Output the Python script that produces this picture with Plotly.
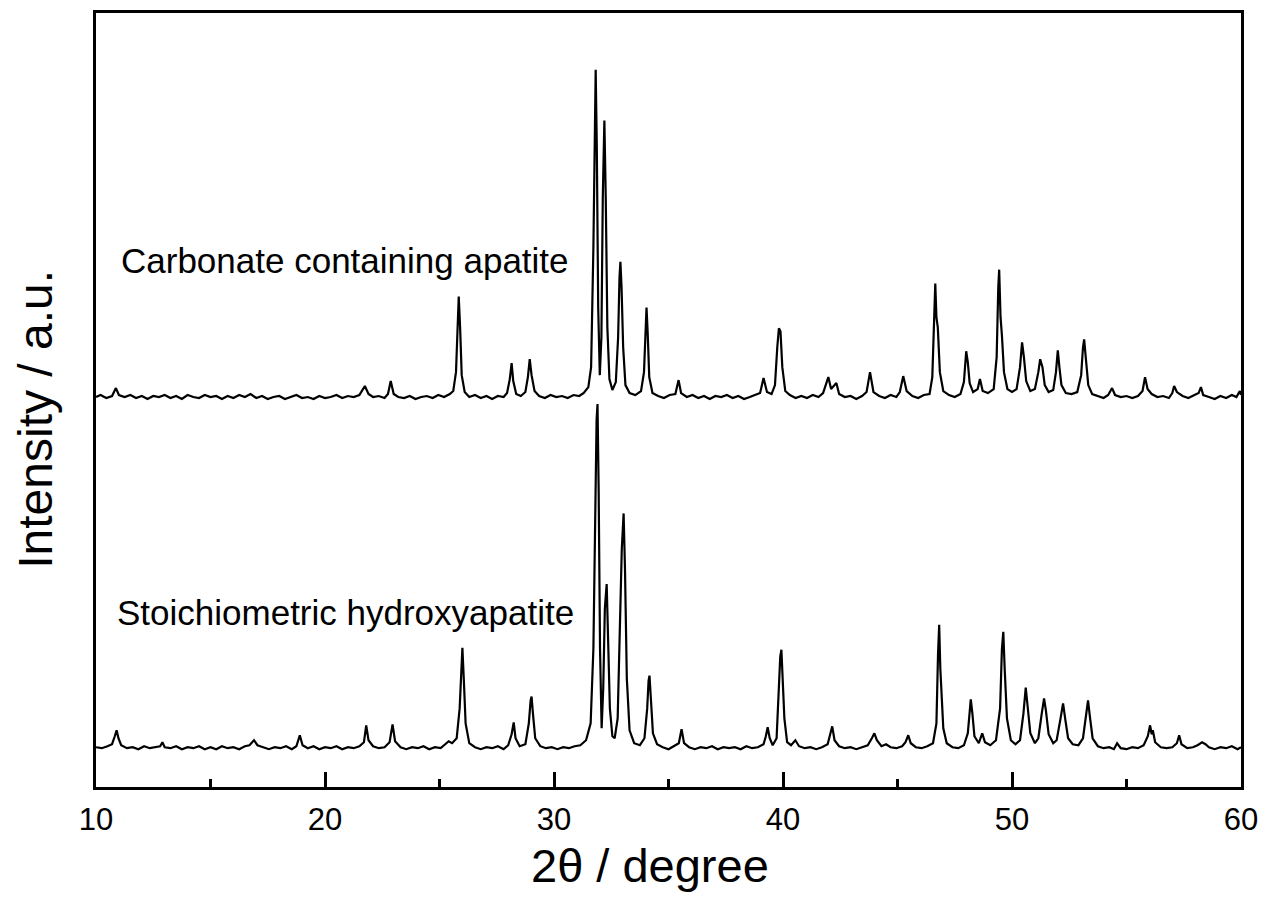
import plotly.graph_objects as go

# ---- data (2theta in degree, intensity in a.u. above each baseline) ----
CARB_PATTERN = [
    (10.0, 0), (10.2, 2), (10.45, -1), (10.7, 1), (10.87, 9), (11.0, 2), (11.25, 0), (11.5, 2), (11.75, -1),
    (12.0, 1), (12.25, -2), (12.5, 1), (12.75, 0), (13.0, 2), (13.25, -1), (13.5, 1), (13.75, -2), (14.0, 2),
    (14.25, 0), (14.5, -1), (14.75, 2), (15.0, 0), (15.25, 1), (15.5, -2), (15.75, 1), (16.0, -1), (16.25, 2),
    (16.5, 0), (16.75, 3), (17.0, -1), (17.25, 1), (17.5, -2), (17.75, 0), (18.0, 1), (18.25, -2), (18.5, 0),
    (18.75, 2), (19.0, -1), (19.25, 0), (19.5, -2), (19.75, 1), (20.0, -1), (20.25, 0), (20.5, 2), (20.75, -1),
    (21.0, 1), (21.25, 0), (21.5, 2), (21.74, 11), (21.9, 3), (22.1, 0), (22.35, 1), (22.6, -1), (22.75, 3),
    (22.87, 16), (23.0, 3), (23.2, 0), (23.45, -1), (23.7, 1), (23.95, -2), (24.2, 0), (24.45, 1), (24.7, -1),
    (24.95, 2), (25.2, 0), (25.45, 3), (25.6, 6), (25.72, 25), (25.8, 75), (25.84, 101), (25.9, 70), (25.97, 22),
    (26.1, 5), (26.3, 0), (26.55, 2), (26.8, -1), (27.05, 1), (27.3, -2), (27.55, 1), (27.8, 0), (27.95, 4),
    (28.07, 18), (28.15, 34), (28.22, 16), (28.35, 3), (28.55, 1), (28.75, 5), (28.86, 20), (28.94, 38),
    (29.02, 22), (29.15, 6), (29.35, 1), (29.6, -1), (29.85, 2), (30.1, 0), (30.35, 1), (30.6, -1), (30.85, 2),
    (31.1, 1), (31.3, 4), (31.5, 10), (31.62, 30), (31.72, 150), (31.78, 290), (31.82, 329), (31.87, 250),
    (31.93, 90), (32.0, 22), (32.07, 60), (32.13, 200), (32.2, 278), (32.26, 200), (32.33, 70), (32.42, 18),
    (32.55, 7), (32.7, 15), (32.8, 60), (32.86, 120), (32.9, 136), (32.95, 110), (33.02, 50), (33.12, 12),
    (33.3, 4), (33.55, 2), (33.8, 6), (33.93, 25), (34.0, 70), (34.04, 90), (34.09, 65), (34.16, 20), (34.3, 4),
    (34.55, 1), (34.8, -1), (35.05, 2), (35.3, 3), (35.44, 17), (35.55, 4), (35.8, 0), (36.05, 2), (36.3, -1),
    (36.55, 1), (36.8, -2), (37.05, 1), (37.3, 0), (37.55, 2), (37.8, -1), (38.05, 1), (38.3, -2), (38.55, 0),
    (38.8, 2), (39.0, 4), (39.15, 19), (39.3, 5), (39.5, 3), (39.65, 12), (39.75, 50), (39.82, 69), (39.89, 66),
    (39.97, 30), (40.1, 6), (40.3, 2), (40.55, -1), (40.8, 1), (41.05, -1), (41.3, 2), (41.55, 0), (41.75, 4),
    (41.98, 20), (42.1, 8), (42.33, 14), (42.45, 3), (42.7, 0), (42.95, 1), (43.2, -2), (43.45, 1), (43.65, 5),
    (43.8, 25), (43.95, 5), (44.2, 1), (44.45, -1), (44.7, 2), (44.95, 0), (45.1, 5), (45.25, 21), (45.4, 6),
    (45.65, 1), (45.9, -1), (46.15, 2), (46.4, 3), (46.52, 20), (46.6, 90), (46.65, 114), (46.7, 80),
    (46.76, 70), (46.85, 25), (47.0, 6), (47.25, 2), (47.5, 0), (47.75, 3), (47.9, 15), (48.0, 46), (48.07, 35),
    (48.15, 14), (48.3, 5), (48.5, 8), (48.6, 18), (48.72, 6), (48.95, 4), (49.2, 8), (49.33, 40), (49.4, 110),
    (49.44, 128), (49.5, 80), (49.56, 62), (49.65, 25), (49.8, 8), (50.0, 5), (50.2, 8), (50.35, 30),
    (50.44, 55), (50.52, 40), (50.62, 16), (50.8, 6), (51.0, 8), (51.15, 25), (51.23, 38), (51.33, 30),
    (51.43, 12), (51.6, 5), (51.8, 7), (51.92, 25), (52.0, 47), (52.07, 30), (52.16, 12), (52.35, 4), (52.6, 3),
    (52.85, 5), (53.02, 22), (53.1, 50), (53.15, 58), (53.22, 40), (53.33, 12), (53.5, 3), (53.75, 1),
    (54.0, -1), (54.2, 2), (54.37, 9), (54.5, 2), (54.75, 0), (55.0, 1), (55.25, -1), (55.5, 1), (55.7, 6),
    (55.81, 20), (55.92, 8), (56.1, 3), (56.35, 0), (56.6, 1), (56.85, -1), (57.0, 4), (57.08, 11), (57.2, 5),
    (57.45, 1), (57.7, -1), (57.95, 2), (58.15, 4), (58.25, 10), (58.35, 2), (58.6, 0), (58.85, -2), (59.1, 1),
    (59.35, -1), (59.6, 2), (59.8, 0), (59.95, 6), (60.0, 2),
]

HAP_PATTERN = [
    (10.0, 1), (10.25, 0), (10.5, 2), (10.7, 4), (10.82, 12), (10.9, 18), (10.98, 10), (11.1, 3), (11.35, 0),
    (11.6, 1), (11.85, -1), (12.1, 2), (12.35, 0), (12.6, 1), (12.8, 2), (12.9, 6), (13.0, 1), (13.25, 0),
    (13.5, 2), (13.75, -1), (14.0, 1), (14.25, 0), (14.5, 2), (14.75, -1), (15.0, 1), (15.25, -1), (15.5, 2),
    (15.75, 0), (16.0, 1), (16.25, -1), (16.5, 2), (16.7, 3), (16.9, 8), (17.05, 3), (17.3, 1), (17.55, -1),
    (17.8, 1), (18.05, 0), (18.3, 2), (18.55, -1), (18.75, 2), (18.9, 13), (19.02, 3), (19.25, 0), (19.5, 2),
    (19.75, -1), (20.0, 1), (20.25, 0), (20.5, 2), (20.75, -1), (21.0, 1), (21.25, 0), (21.5, 2), (21.7, 6),
    (21.8, 23), (21.9, 8), (22.1, 2), (22.35, 0), (22.6, 1), (22.82, 6), (22.95, 24), (23.06, 7), (23.3, 1),
    (23.55, -1), (23.8, 1), (24.05, 0), (24.3, 2), (24.55, -1), (24.8, 1), (25.05, 0), (25.25, 4), (25.4, 7),
    (25.55, 5), (25.75, 10), (25.88, 40), (25.95, 85), (26.0, 101), (26.06, 70), (26.14, 25), (26.3, 5),
    (26.55, 1), (26.8, -1), (27.05, 1), (27.3, 0), (27.55, 2), (27.8, -1), (28.0, 3), (28.15, 14), (28.24, 26),
    (28.32, 10), (28.5, 2), (28.75, 4), (28.9, 25), (28.98, 48), (29.02, 52), (29.08, 35), (29.18, 10),
    (29.4, 2), (29.65, 0), (29.9, 1), (30.15, -1), (30.4, 1), (30.65, 0), (30.9, 2), (31.15, 3), (31.4, 8),
    (31.6, 25), (31.72, 100), (31.8, 250), (31.86, 330), (31.9, 346), (31.95, 260), (32.01, 100), (32.08, 20),
    (32.15, 60), (32.22, 140), (32.3, 165), (32.36, 120), (32.44, 40), (32.55, 12), (32.65, 10), (32.78, 30),
    (32.88, 110), (32.96, 200), (33.04, 236), (33.1, 180), (33.18, 70), (33.3, 18), (33.5, 5), (33.75, 3),
    (33.95, 10), (34.07, 40), (34.13, 68), (34.17, 73), (34.23, 50), (34.32, 15), (34.5, 4), (34.75, 1),
    (35.0, -1), (35.25, 2), (35.45, 5), (35.57, 19), (35.68, 5), (35.9, 1), (36.15, -1), (36.4, 1), (36.65, 0),
    (36.9, 2), (37.15, -1), (37.4, 1), (37.65, 0), (37.9, 1), (38.15, -1), (38.4, 2), (38.65, 0), (38.9, 1),
    (39.15, 4), (39.25, 12), (39.33, 21), (39.42, 10), (39.55, 3), (39.72, 10), (39.82, 55), (39.88, 92),
    (39.93, 99), (39.99, 70), (40.06, 30), (40.18, 6), (40.35, 3), (40.54, 8), (40.7, 2), (40.95, 0), (41.2, 1),
    (41.45, -1), (41.7, 1), (41.95, 4), (42.07, 14), (42.15, 22), (42.25, 8), (42.45, 2), (42.7, 0), (42.95, 1),
    (43.2, -1), (43.45, 1), (43.7, 3), (43.88, 10), (43.99, 15), (44.1, 8), (44.3, 2), (44.5, 4), (44.7, 1),
    (44.95, 0), (45.2, 2), (45.35, 6), (45.47, 13), (45.58, 5), (45.8, 1), (46.05, 0), (46.3, 2), (46.55, 5),
    (46.7, 25), (46.77, 95), (46.82, 124), (46.87, 80), (46.92, 53), (47.0, 20), (47.15, 5), (47.4, 1),
    (47.65, 0), (47.9, 3), (48.07, 15), (48.15, 40), (48.2, 49), (48.27, 35), (48.36, 12), (48.55, 5),
    (48.7, 15), (48.82, 6), (49.05, 3), (49.3, 8), (49.48, 40), (49.56, 100), (49.62, 117), (49.68, 80),
    (49.78, 30), (49.95, 8), (50.15, 4), (50.35, 8), (50.5, 35), (50.6, 61), (50.68, 45), (50.8, 15), (51.0, 5),
    (51.15, 10), (51.3, 35), (51.4, 50), (51.48, 38), (51.6, 14), (51.8, 5), (51.95, 8), (52.12, 30),
    (52.23, 45), (52.32, 30), (52.45, 10), (52.65, 4), (52.9, 3), (53.1, 10), (53.24, 35), (53.32, 48),
    (53.4, 32), (53.52, 10), (53.75, 2), (54.0, 0), (54.25, 1), (54.45, -1), (54.59, 5), (54.75, 0), (55.0, -1),
    (55.25, 1), (55.5, 0), (55.75, 3), (55.93, 12), (56.03, 23), (56.1, 14), (56.15, 18), (56.25, 6), (56.5, 1),
    (56.75, 0), (57.0, 1), (57.2, 5), (57.3, 13), (57.4, 4), (57.65, 0), (57.9, 1), (58.1, 3), (58.3, 6),
    (58.45, 4), (58.6, 1), (58.85, -1), (59.1, 1), (59.35, 0), (59.6, 2), (59.85, -1), (60.0, 1),
]

SERIES_NAMES = ["Carbonate containing apatite", "Stoichiometric hydroxyapatite"]
X_TICKS = [10, 20, 30, 40, 50, 60]
X_TITLE = "2θ / degree"
Y_TITLE = "Intensity / a.u."

# vertical stacking offsets of the two patterns (a.u.)
CARB_OFFSET = 392
HAP_OFFSET = 39
Y_RANGE = [0, 778]

carb_x = [p[0] for p in CARB_PATTERN]
carb_y = [p[1] + CARB_OFFSET for p in CARB_PATTERN]
hap_x = [p[0] for p in HAP_PATTERN]
hap_y = [p[1] + HAP_OFFSET for p in HAP_PATTERN]

FONT = "Liberation Sans, Arial, Helvetica, sans-serif"

fig = go.Figure()
fig.add_trace(go.Scatter(x=carb_x, y=carb_y, mode="lines", name=SERIES_NAMES[0],
                         line=dict(color="black", width=2.2)))
fig.add_trace(go.Scatter(x=hap_x, y=hap_y, mode="lines", name=SERIES_NAMES[1],
                         line=dict(color="black", width=2.2)))

# the page body adds an 8 px margin around the figure
fig.update_layout(
    width=1252, height=888,
    margin=dict(l=88, r=17, t=2, b=109),
    plot_bgcolor="white", paper_bgcolor="white",
    showlegend=False,
    font=dict(family=FONT, color="black"),
)

fig.update_xaxes(
    range=[10, 60], tickvals=X_TICKS, ticktext=[str(t) for t in X_TICKS],
    ticks="inside", ticklen=15, tickwidth=2.5, tickcolor="black",
    minor=dict(ticks="inside", ticklen=8, tickwidth=2.5, tickcolor="black", dtick=5, showgrid=False),
    showline=True, linewidth=3, linecolor="black", mirror=True,
    showgrid=False, zeroline=False,
    tickfont=dict(family=FONT, size=31, color="black"),
    ticklabelstandoff=3,
    ticklabeloverflow="allow",
)
fig.update_yaxes(
    range=Y_RANGE, showticklabels=False, ticks="",
    showline=True, linewidth=3, linecolor="black", mirror=True,
    showgrid=False, zeroline=False,
)

fig.add_annotation(text=X_TITLE, xref="paper", yref="paper", x=0.484, y=-0.1015,
                   showarrow=False, xanchor="center", yanchor="middle",
                   font=dict(family=FONT, size=47, color="black"))
fig.add_annotation(text=Y_TITLE, xref="paper", yref="paper", x=-0.0525, y=0.4756,
                   showarrow=False, xanchor="center", yanchor="middle", textangle=-90,
                   font=dict(family=FONT, size=48, color="black"))
fig.add_annotation(text=SERIES_NAMES[0], xref="x", yref="paper", x=11.0, y=0.68,
                   showarrow=False, xanchor="left", yanchor="middle",
                   font=dict(family=FONT, size=35, color="black"))
fig.add_annotation(text=SERIES_NAMES[1], xref="x", yref="paper", x=10.83, y=0.225,
                   showarrow=False, xanchor="left", yanchor="middle",
                   font=dict(family=FONT, size=35, color="black"))

fig.write_html("out.html")
